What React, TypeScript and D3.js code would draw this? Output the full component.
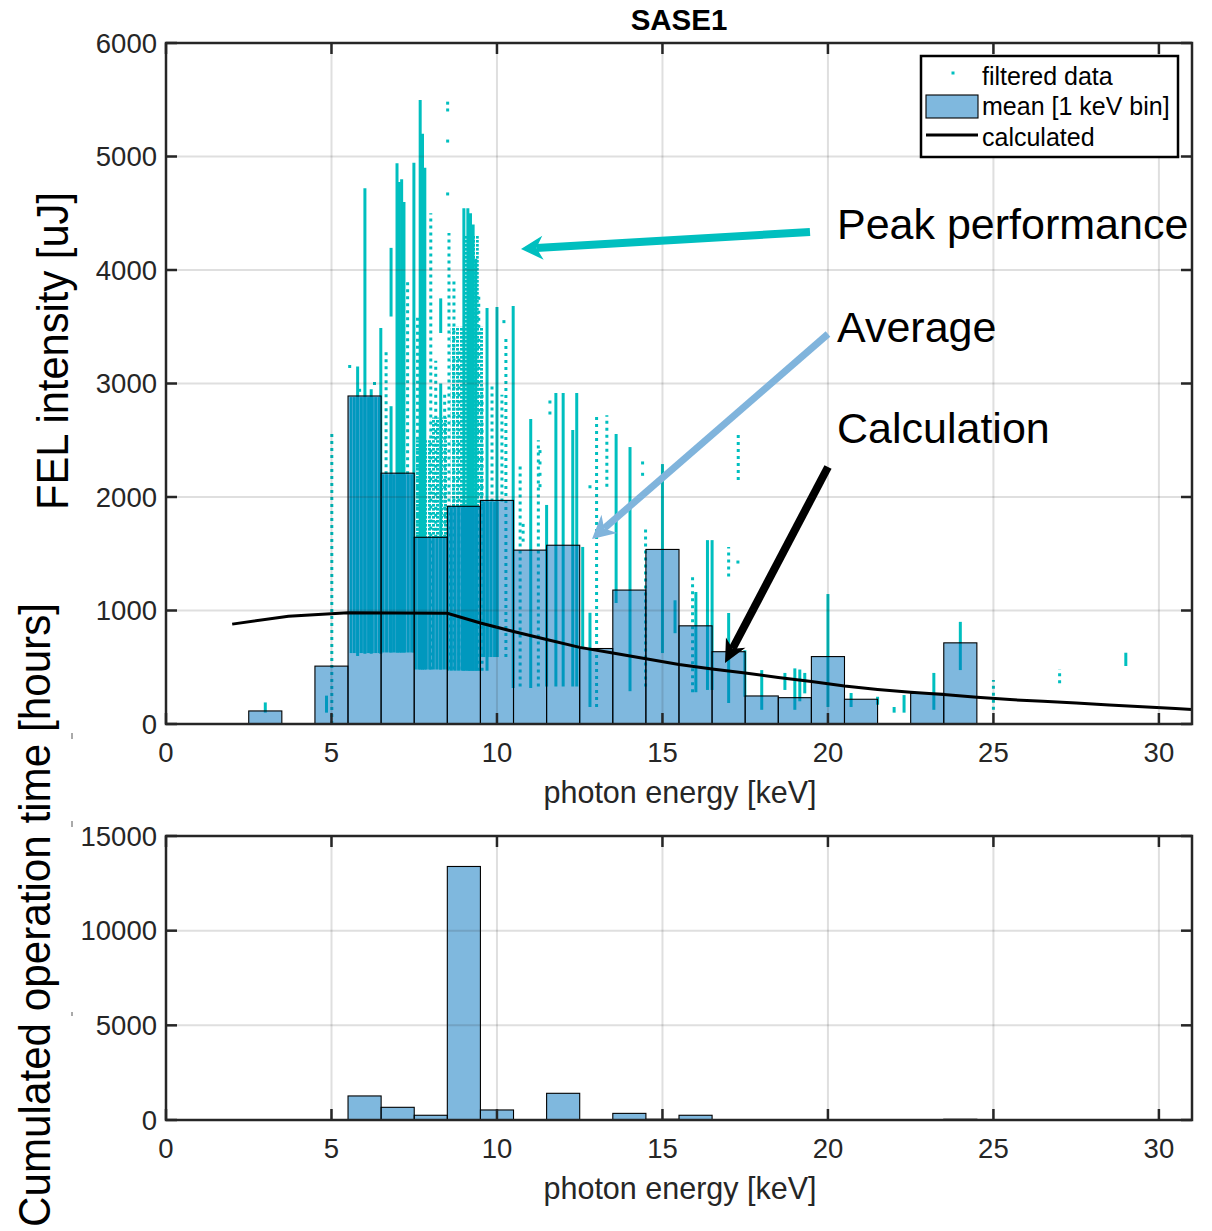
import React from 'react';
import * as d3 from 'd3';

// ---------- data ----------
const energyTicks = [0, 5, 10, 15, 20, 25, 30];
const intensityTicks = [0, 1000, 2000, 3000, 4000, 5000, 6000];
const hourTicks = [0, 5000, 10000, 15000];

// mean FEL intensity per 1 keV bin (bin centre, uJ)
const meanBins = [3, 5, 6, 7, 8, 9, 10, 11, 12, 13, 14, 15, 16, 17, 18, 19, 20, 21, 23, 24];
const meanIntensity = [115, 510, 2890, 2210, 1645, 1918, 1970, 1532, 1575, 665, 1180, 1538, 865, 637, 247, 232, 594, 218, 270, 715];

// cumulated operation time per 1 keV bin (hours)
const hourBins = [6, 7, 8, 9, 10, 12, 14, 15, 16, 24];
const hourValues = [1270, 670, 250, 13390, 530, 1410, 350, 40, 250, 40];

// calculated curve
const calcEnergy = [2.0, 3.7, 5.5, 8.5, 9.5, 10.5, 11.5, 12.5, 13.5, 14.5, 15.5, 16.5, 17.5, 18.5, 19.5, 20.5, 21.5, 22.5, 23.5, 24.5, 25.5, 26.5, 27.5, 28.5, 29.5, 30.5, 31.5];
const calcIntensity = [880, 950, 980, 975, 890, 815, 745, 675, 625, 575, 525, 485, 450, 410, 375, 335, 305, 280, 260, 235, 215, 200, 185, 168, 152, 136, 118];

// filtered data: vertical runs of points [energy, low, high]
const solidStreaks: [number, number, number][] = [
  [3.0, 100, 190], [4.85, 100, 250], [5.79, 600, 3150], [6.01, 620, 4720], [6.2, 620, 2950], [6.49, 620, 3490],
  [6.8, 3590, 4195], [6.8, 630, 2800], [6.98, 630, 4940], [7.05, 630, 4775], [7.12, 630, 4800],
  [7.19, 630, 4600], [7.49, 630, 4945], [7.68, 480, 5498], [7.75, 480, 5200], [7.82, 480, 4900],
  [8.3, 3445, 3750], [8.3, 480, 3000], [9.0, 470, 4545], [9.12, 470, 4545], [9.2, 470, 4500],
  [9.28, 470, 4400], [9.36, 470, 4100], [9.7, 470, 3665], [10.0, 590, 3675], [10.49, 317, 3683],
  [11.02, 317, 2687], [11.5, 330, 1930], [11.78, 330, 2916], [12.0, 330, 2916], [12.29, 330, 2590],
  [12.41, 330, 2916], [12.59, 680, 1560], [12.81, 150, 980], [13.6, 1066, 2555], [14.02, 289, 2440],
  [15.0, 625, 2290], [15.38, 800, 1090], [16.01, 280, 1163], [16.36, 300, 1620], [16.5, 300, 1620],
  [17.0, 185, 978], [17.49, 240, 650], [18.0, 125, 475], [18.7, 300, 450], [19.0, 125, 490],
  [19.15, 200, 480], [19.3, 270, 450], [20.0, 150, 1145], [20.7, 150, 273], [21.5, 170, 240],
  [22.0, 100, 150], [22.3, 100, 255], [23.2, 125, 450], [24.0, 475, 900], [29.0, 511, 628],
];
const dottedStreaks: [number, number, number][] = [
  [5.01, 0, 2560], [8.0, 480, 4500], [8.55, 480, 4325], [8.7, 480, 3900], [8.85, 480, 3300],
  [9.45, 470, 3800], [9.55, 470, 3000], [9.85, 1960, 3000], [10.15, 1960, 2900], [10.27, 590, 3400],
  [10.7, 330, 2300], [11.25, 330, 2500], [13.01, 150, 2720], [13.32, 2090, 2720], [14.49, 330, 1725],
  [15.91, 280, 1313], [17.0, 1300, 1560], [17.29, 2150, 2546], [25.0, 125, 388], [27.0, 360, 485],
  [6.65, 2200, 3300], [7.3, 2200, 3900], [7.6, 1640, 3600], [8.15, 1640, 3200], [8.42, 1640, 2900],
];
const isolatedDots: [number, number][] = [
  [8.51, 5470], [8.51, 5410], [8.51, 5136], [8.51, 4670], [10.21, 3545], [11.6, 2740], [11.6, 2837],
  [14.4, 2300], [14.4, 2200], [17.28, 1427], [12.81, 2090], [10.79, 1750], [10.79, 1690], [10.79, 1620],
  [11.3, 2400], [11.3, 2300], [11.3, 2200], [11.3, 2100], [5.55, 3150], [5.85, 2940], [6.3, 3000],
];
// dense point clouds [energy0, energy1, low, high]
const denseBands: [number, number, number, number][] = [
  [5.55, 6.5, 625, 2880], [6.5, 7.5, 630, 2200], [7.5, 8.5, 480, 1640], [8.5, 9.5, 470, 1910], [9.5, 10.05, 590, 1960],
];
const speckleBands: [number, number, number, number][] = [
  [7.5, 8.5, 1640, 2500], [8.0, 8.5, 2500, 2700], [8.6, 9.6, 1910, 3500], [9.0, 9.45, 3500, 4300],
];

// ---------- layout ----------
const W = 1212, H = 1231;
const L = 166, R = 1192;
const T1 = 43, B1 = 724;
const T2 = 836, B2 = 1120;
const CYAN = '#00BFBF';
const BLUE = '#0072BD';
const AX = '#262626';
const FONT = "'Liberation Sans', Arial, Helvetica, sans-serif";

const x = d3.scaleLinear().domain([0, 31]).range([L, R]);
const y1 = d3.scaleLinear().domain([0, 6000]).range([B1, T1]);
const y2 = d3.scaleLinear().domain([0, 15000]).range([B2, T2]);

function Arrow({ x1, y1: ya, x2, y2: yb, color, w, hl, hw }: any) {
  const dx = x2 - x1, dy = yb - ya;
  const len = Math.hypot(dx, dy);
  const ux = dx / len, uy = dy / len;
  const nx = -uy, ny = ux;
  const bx = x2 - ux * hl, by = yb - uy * hl;
  const sx = x2 - ux * hl * 0.7, sy = yb - uy * hl * 0.7;
  const pts = [
    [x2, yb],
    [bx + nx * hw, by + ny * hw],
    [sx, sy],
    [bx - nx * hw, by - ny * hw],
  ];
  return (
    <g>
      <line x1={x1} y1={ya} x2={sx} y2={sy} stroke={color} strokeWidth={w} />
      <polygon points={pts.map((p) => p.join(',')).join(' ')} fill={color} />
    </g>
  );
}

function Frame({ top, bottom, yScale, yTicks }: any) {
  return (
    <g>
      {energyTicks.map((t) => (
        <line key={'gx' + t} x1={x(t)} x2={x(t)} y1={top} y2={bottom} stroke={AX} strokeOpacity={0.15} strokeWidth={2} />
      ))}
      {yTicks.map((t: number) => (
        <line key={'gy' + t} x1={L} x2={R} y1={yScale(t)} y2={yScale(t)} stroke={AX} strokeOpacity={0.15} strokeWidth={2} />
      ))}
      {energyTicks.map((t) => (
        <g key={'tx' + t}>
          <line x1={x(t)} x2={x(t)} y1={bottom} y2={bottom - 11} stroke={AX} strokeWidth={2.5} />
          <line x1={x(t)} x2={x(t)} y1={top} y2={top + 11} stroke={AX} strokeWidth={2.5} />
          <text x={x(t)} y={bottom + 38} textAnchor="middle" fontSize={27.5} fill={AX} fontFamily={FONT}>{t}</text>
        </g>
      ))}
      {yTicks.map((t: number) => (
        <g key={'ty' + t}>
          <line x1={L} x2={L + 11} y1={yScale(t)} y2={yScale(t)} stroke={AX} strokeWidth={2.5} />
          <line x1={R} x2={R - 11} y1={yScale(t)} y2={yScale(t)} stroke={AX} strokeWidth={2.5} />
          <text x={157} y={yScale(t) + 9.5} textAnchor="end" fontSize={27.5} fill={AX} fontFamily={FONT}>{t}</text>
        </g>
      ))}
      <rect x={L} y={top} width={R - L} height={bottom - top} fill="none" stroke={AX} strokeWidth={2.5} />
      <text x={680} y={bottom + 79} textAnchor="middle" fontSize={30.5} fill={AX} fontFamily={FONT}>photon energy [keV]</text>
    </g>
  );
}

export default function App() {
  React.useEffect(() => {
    document.body.style.margin = '0';
  }, []);
  const bw = x(1) - x(0);
  const line = d3.line<number>().x((_, i) => x(calcEnergy[i])).y((d) => y1(d));

  return (
    <svg width={W} height={H} style={{ position: 'absolute', left: 0, top: 0, background: '#fff' }} fontFamily={FONT}>
      <defs>
        <clipPath id="clipTop"><rect x={L} y={T1} width={R - L} height={B1 - T1} /></clipPath>
        <pattern id="speck" width={4} height={4} patternUnits="userSpaceOnUse">
          <rect x={0} y={0} width={3} height={2.6} fill={CYAN} />
        </pattern>
        <pattern id="dense" width={3.6} height={4} patternUnits="userSpaceOnUse">
          <rect x={0} y={0} width={3.1} height={4} fill={CYAN} />
        </pattern>
      </defs>
      <rect x={0} y={0} width={W} height={H} fill="#fff" />

      {/* ---------- top panel ---------- */}
      <g clipPath="url(#clipTop)">
        {denseBands.map(([e0, e1, lo, hi], i) => (
          <rect key={'db' + i} x={x(e0)} width={x(e1) - x(e0)} y={y1(hi)} height={y1(lo) - y1(hi)} fill="url(#dense)" />
        ))}
        {speckleBands.map(([e0, e1, lo, hi], i) => (
          <rect key={'sb' + i} x={x(e0)} width={x(e1) - x(e0)} y={y1(hi)} height={y1(lo) - y1(hi)} fill="url(#speck)" />
        ))}
        {solidStreaks.map(([e, lo, hi], i) => (
          <line key={'ss' + i} x1={x(e)} x2={x(e)} y1={y1(lo)} y2={y1(hi)} stroke={CYAN} strokeWidth={3} />
        ))}
        {dottedStreaks.map(([e, lo, hi], i) => (
          <line key={'ds' + i} x1={x(e)} x2={x(e)} y1={y1(lo)} y2={y1(hi)} stroke={CYAN} strokeWidth={3} strokeDasharray="3 4" />
        ))}
        {isolatedDots.map(([e, v], i) => (
          <rect key={'id' + i} x={x(e) - 1.5} y={y1(v) - 1.5} width={3} height={3} fill={CYAN} />
        ))}
        {meanBins.map((b, i) => (
          <rect key={'mb' + i} x={x(b - 0.5)} width={bw} y={y1(meanIntensity[i])} height={y1(0) - y1(meanIntensity[i])}
            fill={BLUE} fillOpacity={0.5} stroke="#000" strokeWidth={1.1} />
        ))}
        <path d={line(calcIntensity) || ''} fill="none" stroke="#000" strokeWidth={3} />
      </g>
      <Frame top={T1} bottom={B1} yScale={y1} yTicks={intensityTicks} />

      {/* ---------- bottom panel ---------- */}
      {hourBins.map((b, i) => (
        <rect key={'hb' + i} x={x(b - 0.5)} width={bw} y={y2(hourValues[i])} height={y2(0) - y2(hourValues[i])}
          fill={BLUE} fillOpacity={0.5} stroke="#000" strokeWidth={1.1} />
      ))}
      <Frame top={T2} bottom={B2} yScale={y2} yTicks={hourTicks} />

      {/* title */}
      <text x={679} y={30} textAnchor="middle" fontSize={29.5} fontWeight="bold" fill="#000">SASE1</text>

      {/* y labels */}
      <text transform="translate(68,351) rotate(-90)" textAnchor="middle" fontSize={44} fill="#000"
        textLength={318} lengthAdjust="spacingAndGlyphs">FEL intensity [uJ]</text>
      <text transform="translate(50,915) rotate(-90)" textAnchor="middle" fontSize={44} fill="#000"
        textLength={624} lengthAdjust="spacingAndGlyphs">Cumulated operation time [hours]</text>
      <line x1={72} x2={72} y1={733} y2={739} stroke="#555" strokeWidth={1} />
      <line x1={72} x2={72} y1={821} y2={827} stroke="#555" strokeWidth={1} />
      <line x1={72} x2={72} y1={1012} y2={1016} stroke="#555" strokeWidth={1} />

      {/* legend */}
      <g>
        <rect x={921} y={56} width={257} height={101} fill="#fff" stroke="#000" strokeWidth={2.5} />
        <rect x={951.5} y={71.5} width={3} height={3} fill={CYAN} />
        <text x={982} y={85} fontSize={25} fill="#000">filtered data</text>
        <rect x={926} y={95} width={52} height={23} fill={BLUE} fillOpacity={0.5} stroke="#000" strokeWidth={1.1} />
        <text x={982} y={115} fontSize={25} fill="#000">mean [1 keV bin]</text>
        <line x1={926} x2={978} y1={135} y2={135} stroke="#000" strokeWidth={3} />
        <text x={982} y={146} fontSize={25} fill="#000">calculated</text>
      </g>

      {/* annotations */}
      <Arrow x1={810} y1={232} x2={521} y2={249} color={CYAN} w={8} hl={22} hw={12} />
      <Arrow x1={828} y1={334} x2={592} y2={539} color="#80B4DC" w={7} hl={23} hw={12} />
      <Arrow x1={828} y1={467} x2={725} y2={663} color="#000" w={8} hl={23} hw={11} />
      <text x={837} y={239} fontSize={43} fill="#000">Peak performance</text>
      <text x={837} y={342} fontSize={43} fill="#000">Average</text>
      <text x={837} y={443} fontSize={43} fill="#000">Calculation</text>
    </svg>
  );
}
